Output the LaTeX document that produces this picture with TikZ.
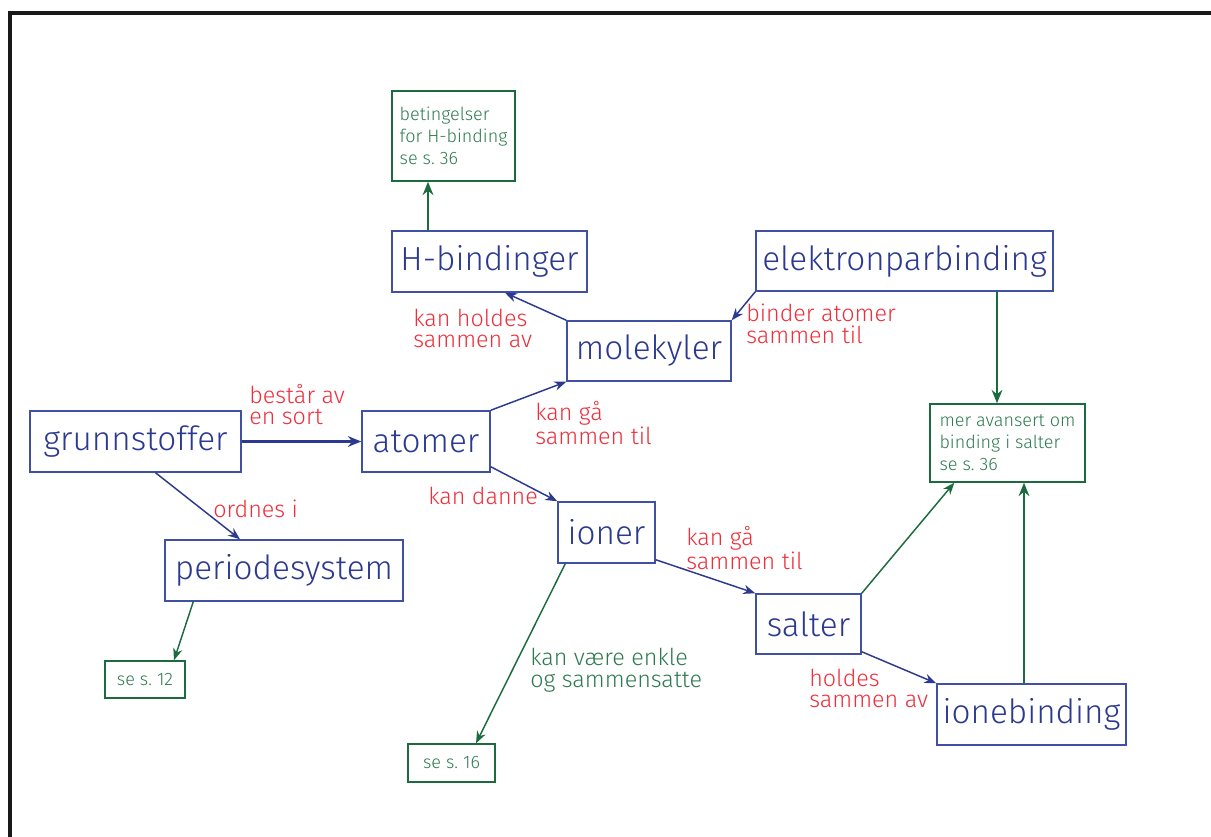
\documentclass[tikz,border=0pt]{standalone}
\usepackage{fontspec}
\setmainfont{Fira Sans}[UprightFont=* Light]
\usetikzlibrary{arrows.meta,calc}
\definecolor{cblue}{HTML}{2B3990}
\definecolor{cbord}{HTML}{4050A2}
\definecolor{cred}{HTML}{EE2E3A}
\definecolor{cgreen}{HTML}{1B6B3F}
\definecolor{cgtext}{HTML}{2D7A4F}
\tikzset{
  bigbox/.style={draw=cbord, line width=1.1pt, text=cblue, inner sep=0pt,
    font=\fontsize{25}{28}\selectfont},
  refbox/.style={draw=cgreen, line width=1.1pt, text=cgtext, inner sep=0pt,
    font=\fontsize{13.5}{16.5}\selectfont},
  lbl/.style={text=cred, inner sep=0pt, anchor=north west, align=left,
    font=\fontsize{17.5}{16}\selectfont},
  glbl/.style={text=cgtext, inner sep=0pt, anchor=north west, align=left,
    font=\fontsize{17.5}{16.5}\selectfont},
  bconn/.style={draw=cblue, line width=1.1pt, -{Stealth[length=9pt,width=7pt]}},
  bconnthick/.style={draw=cblue, line width=1.7pt, -{Stealth[length=10pt,width=8pt]}},
  gconn/.style={draw=cgreen, line width=1.1pt, -{Stealth[length=9pt,width=7pt]}},
  gconnthick/.style={draw=cgreen, line width=1.8pt, -{Stealth[length=10pt,width=8pt]}},
}
\begin{document}
\frenchspacing
\begin{tikzpicture}[x=0.75pt,y=-0.75pt]
\useasboundingbox (0,0) rectangle (1211,837);
\draw[line width=2.3pt, black!90] (10,837) -- (10,13) -- (1211,13);

% boxes
\node[refbox, minimum width=123*0.75pt, minimum height=90*0.75pt, align=left] (bet) at (453.5,136) {betingelser\\for H-binding\\se s. 36};
\node[bigbox, minimum width=195*0.75pt, minimum height=61*0.75pt] (hb) at (489.5,261.5) {H-bindinger};
\node[bigbox, minimum width=297*0.75pt, minimum height=60*0.75pt] (ek) at (904.5,261) {elektronparbinding};
\node[bigbox, minimum width=164*0.75pt, minimum height=60*0.75pt] (mol) at (649,351) {molekyler};
\node[bigbox, minimum width=211*0.75pt, minimum height=61*0.75pt] (gr) at (135.5,441.5) {grunnstoffer};
\node[bigbox, minimum width=128*0.75pt, minimum height=61*0.75pt] (at) at (426,441.5) {atomer};
\node[refbox, minimum width=155*0.75pt, minimum height=78*0.75pt, align=left] (mer) at (1007.5,443) {mer avansert om\\binding i salter\\se s. 36};
\node[bigbox, minimum width=97*0.75pt, minimum height=61*0.75pt] (ion) at (606.5,532.5) {ioner};
\node[bigbox, minimum width=238*0.75pt, minimum height=61*0.75pt] (per) at (284,570.5) {periodesystem};
\node[bigbox, minimum width=105*0.75pt, minimum height=60*0.75pt] (sal) at (808.5,624) {salter};
\node[bigbox, minimum width=189*0.75pt, minimum height=61*0.75pt] (ib) at (1031.5,714.5) {ionebinding};
\node[refbox, minimum width=80*0.75pt, minimum height=37*0.75pt] (s12) at (145,679.5) {se s. 12};
\node[refbox, minimum width=87*0.75pt, minimum height=38*0.75pt] (s16) at (451.5,763) {se s. 16};

% labels
\node[lbl] (l1) at (249,384) {består av\\en sort};
\node[lbl] (l2) at (213,500) {ordnes i};
\node[lbl] (l3) at (413,309) {kan holdes\\sammen av};
\node[lbl] (l4) at (746,304) {binder atomer\\sammen til};
\node[lbl] (l5) at (535,401) {kan gå\\sammen til};
\node[lbl] (l6) at (428,487) {kan danne};
\node[lbl] (l7) at (686,526) {kan gå\\sammen til};
\node[lbl] (l8) at (809,669) {holdes\\sammen av};
\node[glbl] (l9) at (530,648) {kan være enkle\\og sammensatte};

% connectors
\draw[bconnthick] (gr.east) -- (at.west);
\draw[bconn] ($(gr.south)+(20,0)$) -- ($(per.north)+(-44,0)$);
\draw[bconn] (at.north east) -- (mol.south west);
\draw[bconn] ($(at.south east)+(0,-6)$) -- (ion.north west);
\draw[bconn] (mol.north west) -- ($(hb.south)+(15.5,0)$);
\draw[bconn] (ek.south west) -- (mol.north east);
\draw[bconn] ($(ion.south east)+(0,-4)$) -- (sal.north west);
\draw[bconn] ($(sal.south east)+(0,-3)$) -- (ib.north west);
\draw[gconnthick] ($(hb.north)+(-61.5,0)$) -- ($(bet.south)+(-25.5,0)$);
\draw[gconnthick] ($(ek.south)+(92.5,0)$) -- ($(mer.north)+(-10.5,0)$);
\draw[gconnthick] ($(ib.north)+(-7.5,0)$) -- ($(mer.south)+(16.5,0)$);
\draw[gconn] ($(ion.south west)+(8,0)$) -- ($(s16.north)+(24.5,0)$);
\draw[gconn] ($(per.south west)+(29,0)$) -- ($(s12.north)+(29,0)$);
\draw[gconn] (sal.north east) -- ($(mer.south west)+(25,0)$);
\end{tikzpicture}
\end{document}
